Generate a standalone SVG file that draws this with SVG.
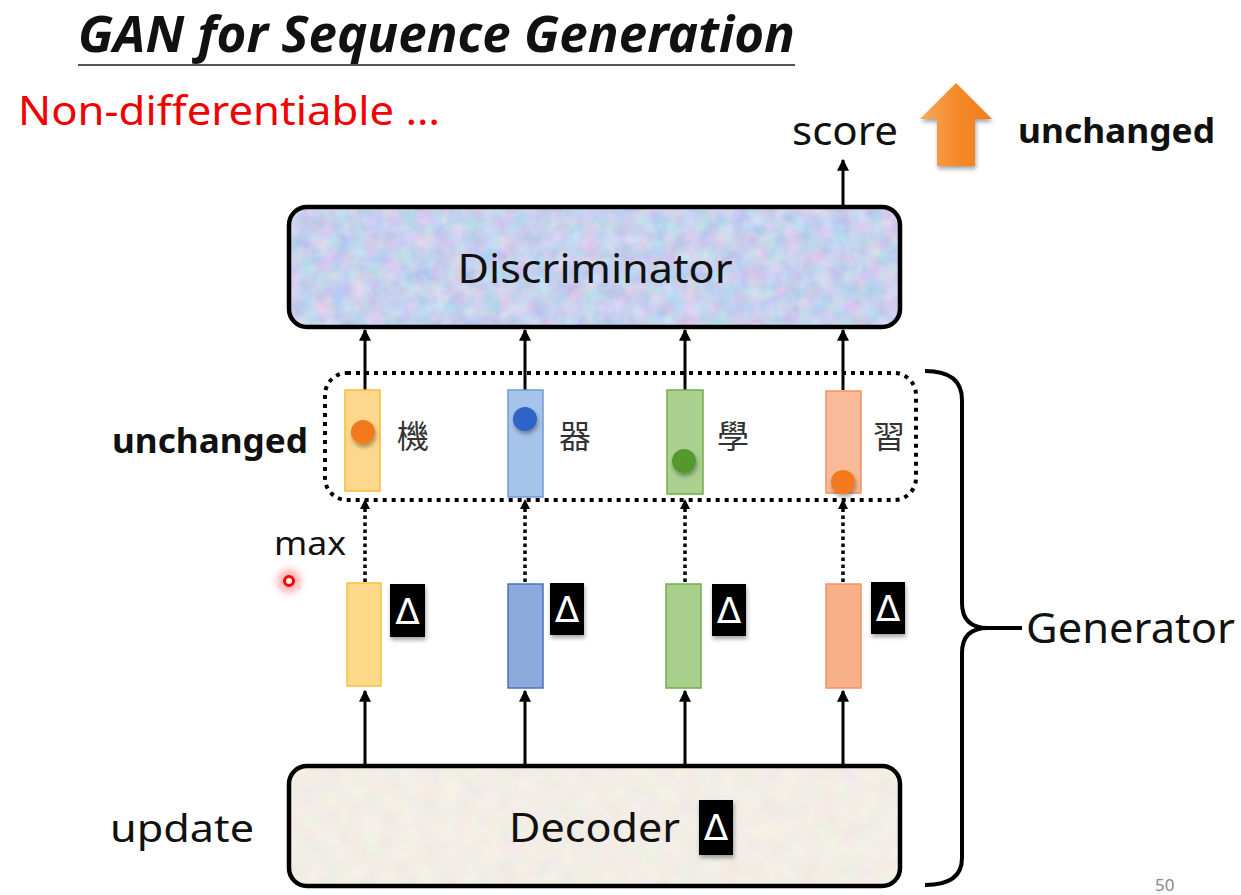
<svg xmlns="http://www.w3.org/2000/svg" width="1241" height="895" viewBox="0 0 1241 895">
<defs>
<style>
.t{font-family:"Noto Sans","Open Sans","Liberation Sans",sans-serif;fill:#111}
.b{font-weight:bold}
.cjk{font-family:"Noto Sans CJK TC","Noto Sans CJK SC",sans-serif;fill:#333;font-size:32px}
.conn{stroke:#000;stroke-width:3;fill:none}
.dot{stroke:#000;stroke-width:3.5;fill:none;stroke-dasharray:3.5 3.5}
.box{stroke:#000;stroke-width:4.5}
.delta{fill:#000}
.dt{font-family:"DejaVu Sans","Noto Sans",sans-serif;fill:#fff;font-size:36px;text-anchor:middle}
</style>
<marker id="ah" viewBox="0 0 10 10" refX="9" refY="5" markerWidth="4" markerHeight="4" orient="auto">
<path d="M0,0 L10,5 L0,10 Z" fill="#000"/>
</marker>
<filter id="texB" x="0" y="0" width="100%" height="100%" color-interpolation-filters="sRGB">
<feTurbulence type="fractalNoise" baseFrequency="0.06" numOctaves="3" seed="4" result="n"/>
<feColorMatrix in="n" type="matrix" values="0.3 0 0 0 0.63  0 0.2 0 0 0.72  0 0 0.1 0 0.88  0 0 0 0 1" result="c"/>
<feComposite in="c" in2="SourceGraphic" operator="in"/>
</filter>
<filter id="texD" x="0" y="0" width="100%" height="100%" color-interpolation-filters="sRGB">
<feTurbulence type="fractalNoise" baseFrequency="0.05" numOctaves="2" seed="7" result="n"/>
<feColorMatrix in="n" type="matrix" values="0.06 0 0 0 0.92  0 0.06 0 0 0.9  0 0 0.06 0 0.87  0 0 0 0 1" result="c"/>
<feComposite in="c" in2="SourceGraphic" operator="in"/>
</filter>
<filter id="sh" x="-50%" y="-50%" width="200%" height="200%">
<feDropShadow dx="1" dy="3" stdDeviation="2" flood-color="#000" flood-opacity="0.35"/>
</filter>
<filter id="glow" x="-100%" y="-100%" width="300%" height="300%">
<feGaussianBlur stdDeviation="4"/>
</filter>
<linearGradient id="og" x1="0" y1="0" x2="1" y2="0">
<stop offset="0" stop-color="#f7a85c"/>
<stop offset="0.5" stop-color="#f58a2a"/>
<stop offset="1" stop-color="#f07c1c"/>
</linearGradient>
</defs>
<rect width="1241" height="895" fill="#fff"/>

<g id="title">
<text class="t b" x="78" y="52" font-size="50" font-style="italic" textLength="717" lengthAdjust="spacingAndGlyphs">GAN for Sequence Generation</text>
<line x1="78" y1="65" x2="795" y2="65" stroke="#555" stroke-width="2"/>
</g>
<g id="nondiff">
<text class="t" x="18" y="125" font-size="40" style="fill:#f20000" textLength="422" lengthAdjust="spacingAndGlyphs">Non-differentiable …</text>
</g>

<g id="score">
<text class="t" x="792" y="145" font-size="40" textLength="106" lengthAdjust="spacingAndGlyphs">score</text>
</g>
<g id="orange-arrow">
<polygon points="956,83 992,119 975,119 975,166 937,166 937,119 920,119" fill="url(#og)" filter="url(#sh)"/>
</g>
<g id="unchanged-top">
<text class="t b" x="1018" y="143" font-size="34" textLength="197" lengthAdjust="spacingAndGlyphs">unchanged</text>
</g>

<g id="discriminator">
<rect x="289" y="207" width="611" height="120" rx="18" fill="#c4d3ee"/>
<rect x="289" y="207" width="611" height="120" rx="18" fill="#fff" filter="url(#texB)"/>
<rect x="289" y="207" width="611" height="120" rx="18" fill="none" class="box"/>
<text class="t" x="595" y="283" font-size="40" text-anchor="middle" textLength="275" lengthAdjust="spacingAndGlyphs">Discriminator</text>
</g>

<g id="connectors">
<line class="conn" x1="843" y1="205" x2="843" y2="160" marker-end="url(#ah)"/>
<line class="conn" x1="365" y1="390" x2="365" y2="330" marker-end="url(#ah)"/>
<line class="conn" x1="525" y1="390" x2="525" y2="330" marker-end="url(#ah)"/>
<line class="conn" x1="685" y1="390" x2="685" y2="330" marker-end="url(#ah)"/>
<line class="conn" x1="843" y1="390" x2="843" y2="330" marker-end="url(#ah)"/>
<line class="dot" x1="365" y1="582" x2="365" y2="506"/>
<line class="dot" x1="525" y1="582" x2="525" y2="506"/>
<line class="dot" x1="685" y1="582" x2="685" y2="506"/>
<line class="dot" x1="843" y1="582" x2="843" y2="506"/>
<polygon points="365,499 360,509 370,509" fill="#000"/>
<polygon points="525,499 520,509 530,509" fill="#000"/>
<polygon points="685,499 680,509 690,509" fill="#000"/>
<polygon points="843,499 838,509 848,509" fill="#000"/>
<line class="conn" x1="365" y1="766" x2="365" y2="691" marker-end="url(#ah)"/>
<line class="conn" x1="525" y1="766" x2="525" y2="691" marker-end="url(#ah)"/>
<line class="conn" x1="685" y1="766" x2="685" y2="691" marker-end="url(#ah)"/>
<line class="conn" x1="843" y1="766" x2="843" y2="691" marker-end="url(#ah)"/>
</g>

<g id="output-group">
<rect x="325" y="373" width="591" height="127" rx="22" fill="none" stroke="#000" stroke-width="4" stroke-dasharray="4 5"/>
</g>
<g id="unchanged-left">
<text class="t b" x="112" y="453" font-size="34" textLength="196" lengthAdjust="spacingAndGlyphs">unchanged</text>
</g>

<g id="tok1">
<rect x="345" y="390" width="35" height="101" fill="#fdd88c" stroke="#f4bc3a" stroke-width="1.5"/>
<circle cx="363" cy="432" r="12" fill="#f27a1a" filter="url(#sh)"/>
<text class="cjk" x="413" y="448" text-anchor="middle">機</text>
</g>
<g id="tok2">
<rect x="508" y="390" width="35" height="107" fill="#a6c4ea" stroke="#6f9bd6" stroke-width="1.5"/>
<circle cx="525" cy="419" r="12" fill="#2f64c8" filter="url(#sh)"/>
<text class="cjk" x="575" y="448" text-anchor="middle">器</text>
</g>
<g id="tok3">
<rect x="667" y="390" width="36" height="104" fill="#aad190" stroke="#72ad4a" stroke-width="1.5"/>
<circle cx="684" cy="461" r="12" fill="#54992f" filter="url(#sh)"/>
<text class="cjk" x="733" y="448" text-anchor="middle">學</text>
</g>
<g id="tok4">
<rect x="826" y="391" width="35" height="102" fill="#f8ba98" stroke="#f1925f" stroke-width="1.5"/>
<circle cx="843" cy="482" r="12" fill="#f27a1a" filter="url(#sh)"/>
<text class="cjk" x="889" y="448" text-anchor="middle">習</text>
</g>

<g id="max">
<text class="t" x="274" y="555" font-size="32" textLength="72" lengthAdjust="spacingAndGlyphs">max</text>
<circle cx="289" cy="581" r="11" fill="#ff3030" opacity="0.45" filter="url(#glow)"/>
<circle cx="289" cy="581" r="4.5" fill="#fff" stroke="#f00" stroke-width="3"/>
</g>

<g id="dist1">
<rect x="347" y="583" width="34" height="103" fill="#fdd888" stroke="#f6c040" stroke-width="1.5"/>
<rect class="delta" x="390" y="584" width="35" height="53" filter="url(#sh)"/>
<text class="dt" x="407.5" y="624">Δ</text>
</g>
<g id="dist2">
<rect x="508" y="584" width="35" height="104" fill="#8eaadd" stroke="#4a72c0" stroke-width="1.5"/>
<rect class="delta" x="550" y="583" width="34" height="52" filter="url(#sh)"/>
<text class="dt" x="567" y="622">Δ</text>
</g>
<g id="dist3">
<rect x="666" y="584" width="35" height="104" fill="#a8cf8c" stroke="#72ad4a" stroke-width="1.5"/>
<rect class="delta" x="712" y="584" width="34" height="52" filter="url(#sh)"/>
<text class="dt" x="729" y="623">Δ</text>
</g>
<g id="dist4">
<rect x="826" y="584" width="35" height="104" fill="#f8b08a" stroke="#f1925f" stroke-width="1.5"/>
<rect class="delta" x="871" y="582" width="34" height="52" filter="url(#sh)"/>
<text class="dt" x="888" y="621">Δ</text>
</g>

<g id="decoder">
<rect x="289" y="766" width="611" height="120" rx="18" fill="#f2ebe2"/>
<rect x="289" y="766" width="611" height="120" rx="18" fill="#fff" filter="url(#texD)"/>
<rect x="289" y="766" width="611" height="120" rx="18" fill="none" class="box"/>
<text class="t" x="509" y="842" font-size="40" textLength="171" lengthAdjust="spacingAndGlyphs">Decoder</text>
<rect class="delta" x="699" y="800" width="34" height="55" filter="url(#sh)"/>
<text class="dt" x="716" y="840">Δ</text>
</g>
<g id="update">
<text class="t" x="110" y="842" font-size="38" textLength="144" lengthAdjust="spacingAndGlyphs">update</text>
</g>

<g id="generator">
<path d="M925,371 Q962,371 962,400 L962,603 Q962,628 988,628 Q962,628 962,653 L962,858 Q962,885 925,885" fill="none" stroke="#000" stroke-width="4"/>
<line x1="986" y1="628" x2="1022" y2="628" stroke="#000" stroke-width="4"/>
<text class="t" x="1026" y="643" font-size="42" textLength="209" lengthAdjust="spacingAndGlyphs">Generator</text>
</g>

<g id="page">
<text class="t" x="1155" y="891" font-size="17" style="fill:#888">50</text>
</g>
</svg>
